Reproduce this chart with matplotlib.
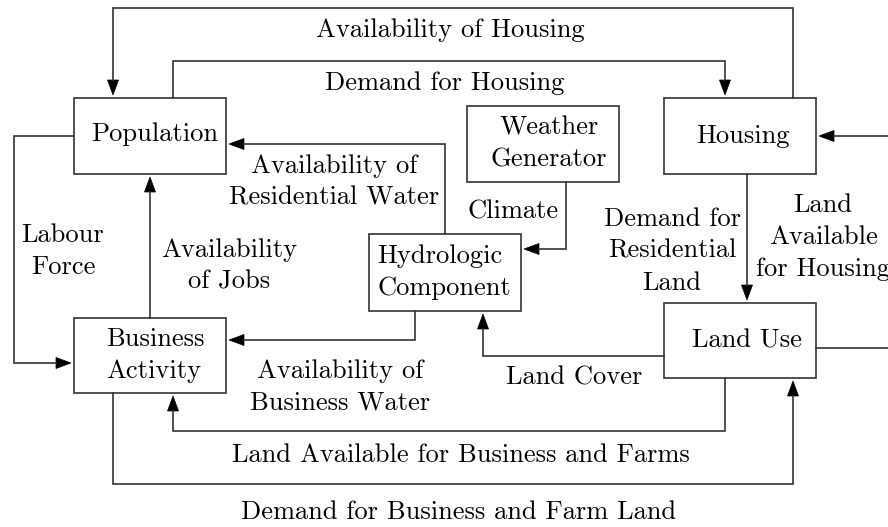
import matplotlib.pyplot as plt
from matplotlib.patches import Rectangle, Polygon

# boxes: name -> (left, top, right, bottom) in pixel units
boxes = {
    "pop": (74, 98, 226, 174),
    "bus": (74, 318, 226, 393),
    "wea": (467, 106, 619, 182),
    "hou": (664, 98, 816, 174),
    "lan": (664, 303, 816, 378),
    "hyd": (369, 234, 521, 311),
}

# box labels: (text, x, y, multialignment)
box_labels = [
    ("Population", 155, 134, "center"),
    ("Business\nActivity", 155, 355, "left"),
    ("Weather\nGenerator", 549, 144, "center"),
    ("Housing", 743, 136, "center"),
    ("Land Use", 747, 341, "center"),
    ("Hydrologic\nComponent", 444, 272, "left"),
]

# connectors: waypoints, last point is where the arrow meets the box
arrows = [
    [(793, 98), (793, 8), (113, 8), (113, 98)],          # availability of housing
    [(173, 98), (173, 61), (725, 61), (725, 98)],        # demand for housing
    [(445, 234), (445, 144), (226, 144)],                # residential water
    [(74, 136), (14, 136), (14, 363), (74, 363)],        # labour force
    [(150, 318), (150, 174)],                            # jobs
    [(566, 182), (566, 249), (521, 249)],                # climate
    [(415, 311), (415, 340), (226, 340)],                # business water
    [(664, 356), (483, 356), (483, 311)],                # land cover
    [(725, 378), (725, 431), (173, 431), (173, 393)],    # land for business
    [(113, 393), (113, 484), (793, 484), (793, 378)],    # demand business land
    [(747, 174), (747, 303)],                            # demand residential land
    [(900, 136), (816, 136)],                            # land available for housing
]
plain_lines = [
    [(816, 348), (900, 348)],
]

edge_labels = [
    ("Availability of Housing", 450, 30),
    ("Demand for Housing", 445, 83),
    ("Availability of\nResidential Water", 334, 182),
    ("Labour\nForce", 63, 251),
    ("Availability\nof Jobs", 229, 266),
    ("Climate", 513, 212),
    ("Availability of\nBusiness Water", 340, 387),
    ("Land Cover", 574, 378),
    ("Land Available for Business and Farms", 461, 455),
    ("Demand for Business and Farm Land", 459, 512),
    ("Demand for\nResidential\nLand", 672, 251),
    ("Land\nAvailable\nfor Housing", 823, 237),
]

LINE = "#333333"
FS = 19.1
LS = 1.45

fig = plt.figure(figsize=(8.88, 5.27), dpi=100)
ax = fig.add_axes([0, 0, 1, 1])
ax.set_xlim(0, 888)
ax.set_ylim(527, 0)
ax.axis("off")

for l, t, r, b in boxes.values():
    ax.add_patch(Rectangle((l, t), r - l, b - t, fill=False, ec=LINE, lw=1.2))


def draw_arrow(pts, gap=3, head_len=15, half_w=5.5):
    (x0, y0), (x1, y1) = pts[-2], pts[-1]
    dx = (x1 > x0) - (x1 < x0)
    dy = (y1 > y0) - (y1 < y0)
    tip = (x1 - dx * gap, y1 - dy * gap)
    base = (tip[0] - dx * head_len, tip[1] - dy * head_len)
    xs = [p[0] for p in pts[:-1]] + [base[0]]
    ys = [p[1] for p in pts[:-1]] + [base[1]]
    ax.plot(xs, ys, color=LINE, lw=1.2, solid_joinstyle="miter")
    px, py = -dy, dx
    head = [tip, (base[0] + px * half_w, base[1] + py * half_w),
            (base[0] - px * half_w, base[1] - py * half_w)]
    ax.add_patch(Polygon(head, closed=True, fc="black", ec="black", lw=0.5))


for pts in arrows:
    draw_arrow(pts)
for pts in plain_lines:
    ax.plot([p[0] for p in pts], [p[1] for p in pts], color=LINE, lw=1.2)

for txt, x, y, al in box_labels:
    ax.text(x, y, txt, ha="center", va="center", multialignment=al,
            family="cmr10", fontsize=FS, linespacing=LS)

for txt, x, y in edge_labels:
    ax.text(x, y, txt, ha="center", va="center", multialignment="center",
            family="cmr10", fontsize=FS, linespacing=LS)

fig.savefig("out.png", dpi=100, facecolor="white")
